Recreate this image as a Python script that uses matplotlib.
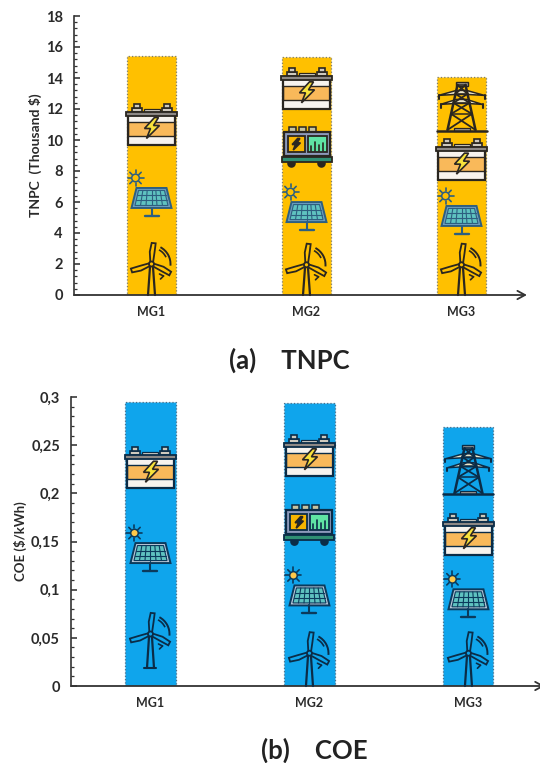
import numpy as np
import matplotlib
matplotlib.use("Agg")
import matplotlib.pyplot as plt
from matplotlib.patches import Polygon, Rectangle, Circle, Arc

plt.rcParams['font.family'] = ['Lato', 'DejaVu Sans']

categories = ['MG1', 'MG2', 'MG3']
tnpc_total = [15.4, 15.35, 14.05]
coe_total = [0.295, 0.294, 0.269]

tnpc_ticks = [0, 2, 4, 6, 8, 10, 12, 14, 16, 18]
coe_ticks = [0, 0.05, 0.1, 0.15, 0.2, 0.25, 0.3]
coe_tick_labels = ['0', '0,05', '0,1', '0,15', '0,2', '0,25', '0,3']

# where each icon sits in its bar
tnpc_icons = [
    [('turbine', 2.0), ('panel', 6.26), ('battery', 11.0)],
    [('turbine', 1.95), ('panel', 5.35), ('inverter', 9.55), ('battery', 13.3)],
    [('turbine', 1.95), ('panel', 5.1), ('battery', 8.7), ('tower', 12.2)],
]
coe_icons = [
    [('turbine', 0.054), ('panel', 0.138), ('battery', 0.226)],
    [('turbine', 0.034), ('panel', 0.094), ('inverter', 0.167), ('battery', 0.239)],
    [('turbine', 0.034), ('panel', 0.09), ('battery', 0.157), ('tower', 0.225)],
]

W, H = 540, 763
DARK = '#2b2622'
ORANGE_BAR = '#ffc000'
BLUE_BAR = '#0fa5ec'


def poly(ov, cx, cy, pts, fc='none', ec=DARK, lw=1.0, z=5):
    pts = [(cx + p[0], cy + p[1]) for p in pts]
    ov.add_patch(Polygon(pts, closed=True, fc=fc, ec=ec, lw=lw, zorder=z))


def rect(ov, cx, cy, x0, y0, x1, y1, fc='none', ec=DARK, lw=1.0, z=5):
    poly(ov, cx, cy, [(x0, y0), (x1, y0), (x1, y1), (x0, y1)], fc, ec, lw, z)


def line(ov, cx, cy, x0, y0, x1, y1, c=DARK, lw=1.0, z=6):
    ov.plot([cx + x0, cx + x1], [cy + y0, cy + y1], color=c, lw=lw, zorder=z,
            solid_capstyle='round')


def bolt(ov, cx, cy, s=1.0, fc='#f8e23b'):
    pts = [(3, 10), (-7, -1), (-1, -1), (-5, -11), (8, 2), (2, 2), (7, 10)]
    poly(ov, cx, cy, [(p[0] * s, p[1] * s) for p in pts], fc=fc, lw=1.2, z=7)


def battery(ov, cx, cy, dark):
    for tx in (-15, 15):
        rect(ov, cx, cy, tx - 5, 13, tx + 5, 17, fc='#cfc9bd', ec=dark, lw=1.2)
        rect(ov, cx, cy, tx - 3, 17, tx + 3, 21, fc='#cfc9bd', ec=dark, lw=1.2)
    rect(ov, cx, cy, -8, 13, 8, 16, fc='#d9d4ca', ec=dark, lw=0.9)
    rect(ov, cx, cy, -23.5, -20, 23.5, 10, fc='#f7f3ee', ec='none')
    rect(ov, cx, cy, -23.5, -11, 23.5, 3, fc='#f9b95a', ec=dark, lw=1.0)
    rect(ov, cx, cy, -23.5, -20, 23.5, 10, ec=dark, lw=1.6)
    rect(ov, cx, cy, -25.5, 9, 25.5, 13, fc='#8d8885', ec=dark, lw=1.3)
    bolt(ov, cx, cy - 3)


def inverter(ov, cx, cy, dark):
    for kx in (-14, -4, 6):
        rect(ov, cx, cy, kx - 3.5, 14, kx + 3.5, 20, fc='#c6c2a0', ec=dark, lw=1.1)
    rect(ov, cx, cy, -23, -9, 23, 15, fc='#8d9abb', ec=dark, lw=1.6)
    rect(ov, cx, cy, -19, -5, -2, 11, fc='#f7b500', ec=dark, lw=1.3)
    bolt(ov, cx - 10.5, cy + 3, s=0.55, fc=dark)
    rect(ov, cx, cy, 1, -5, 20, 11, fc='#5fe4a4', ec=dark, lw=1.3)
    for bx, bh in zip((4, 8, 12, 16), (5, 9, 6, 8)):
        line(ov, cx, cy, bx, -4, bx, -4 + bh, c=dark, lw=1.2)
    rect(ov, cx, cy, -25, -15, 25, -10, fc='#2f8f73', ec=dark, lw=1.3)
    for fx in (-15, 15):
        ov.add_patch(Circle((cx + fx, cy - 16.5), 4.3, fc=dark, ec='none', zorder=4))


def panel(ov, cx, cy, dark, sun_fill, frame):
    line(ov, cx, cy, 0, -10, 0, -18, c=dark, lw=1.5)
    line(ov, cx, cy, -7, -18, 7, -18, c=dark, lw=1.7)
    poly(ov, cx, cy, [(-20, -10), (20, -10), (15, 10), (-15, 10)], fc=frame, ec=dark, lw=1.4)
    poly(ov, cx, cy, [(-16.5, -7.5), (16.5, -7.5), (13, 7.5), (-13, 7.5)], fc='#5fc2c0', ec=dark, lw=0.8, z=6)
    for v in (-2.5, 2.5):
        half = 16.5 - (v + 7.5) * 3.5 / 15
        line(ov, cx, cy, -half, v, half, v, c=dark, lw=0.8, z=7)
    for t in np.linspace(-1, 1, 7)[1:-1]:
        line(ov, cx, cy, t * 16.5, -7.5, t * 13, 7.5, c=dark, lw=0.8, z=7)
    sx, sy = cx - 16, cy + 20
    ov.add_patch(Circle((sx, sy), 3.8, fc=sun_fill, ec=dark, lw=1.1, zorder=6))
    for a in np.arange(0, 360, 45):
        ca, sa = np.cos(np.radians(a)), np.sin(np.radians(a))
        line(ov, sx, sy, 4.8 * ca, 4.8 * sa, 8 * ca, 8 * sa, c=dark, lw=1.2)


def turbine(ov, cx, cy, dark, base_y, fill, foot):
    line(ov, cx, cy, -1.5, -3, -3.5, base_y - cy, c=dark, lw=1.6)
    line(ov, cx, cy, 1.5, -3, 3.5, base_y - cy, c=dark, lw=1.6)
    if foot:
        line(ov, cx, cy, -6, base_y - cy, 6, base_y - cy, c=dark, lw=1.5)
    for ang in (84, 198, 333):
        ca, sa = np.cos(np.radians(ang)), np.sin(np.radians(ang))
        nx, ny = -sa, ca
        pts = [(2 * ca - 1.4 * nx, 2 * sa - 1.4 * ny), (2 * ca + 1.4 * nx, 2 * sa + 1.4 * ny),
               (12 * ca + 3 * nx, 12 * sa + 3 * ny), (21 * ca + 2 * nx, 21 * sa + 2 * ny),
               (21 * ca - 2 * nx, 21 * sa - 2 * ny), (12 * ca - 1.8 * nx, 12 * sa - 1.8 * ny)]
        poly(ov, cx, cy, pts, fc=fill, ec=dark, lw=1.3, z=6)
    ov.add_patch(Circle((cx, cy), 2.5, fc=fill, ec=dark, lw=1.3, zorder=7))
    ov.add_patch(Arc((cx, cy), 38, 38, theta1=-5, theta2=62, ec=dark, lw=1.4, zorder=5))
    ov.add_patch(Arc((cx, cy), 32, 32, theta1=25, theta2=62, ec=dark, lw=1.2, zorder=5))
    line(ov, cx, cy, 8, -10, 12, -12, c=dark, lw=1.2)
    line(ov, cx, cy, 12, -12, 9, -15, c=dark, lw=1.2)


def tower(ov, cx, cy, dark):
    line(ov, cx, cy, -25, -25, 25, -25, c=dark, lw=1.8)
    rect(ov, cx, cy, -8, -25, 8, -22, fc='#9f9a94', ec=dark, lw=0.9)
    line(ov, cx, cy, -14, -24, -4, 21, c=dark, lw=1.8)
    line(ov, cx, cy, 14, -24, 4, 21, c=dark, lw=1.8)
    # cross bracing between the legs
    levels = [-24, -8, 3, 12, 21]
    half = [14, 10.4, 8, 6, 4]
    for k in range(4):
        line(ov, cx, cy, -half[k], levels[k], half[k + 1], levels[k + 1], c=dark, lw=1.3)
        line(ov, cx, cy, half[k], levels[k], -half[k + 1], levels[k + 1], c=dark, lw=1.3)
        line(ov, cx, cy, -half[k + 1], levels[k + 1], half[k + 1], levels[k + 1], c=dark, lw=1.1)
    rect(ov, cx, cy, -6, 20, 6, 24, fc='#9f9a94', ec=dark, lw=1.0)
    for ay, tip in ((13, 23), (4, 21)):
        poly(ov, cx, cy, [(-tip, ay - 2.5), (-5, ay + 2.5), (5, ay + 2.5), (tip, ay - 2.5), (5, ay - 1.5), (-5, ay - 1.5)],
             fc='#ede6c8', ec=dark, lw=1.1)
        for sx in (-tip, tip):
            line(ov, cx, cy, sx, ay - 2.5, sx, ay - 6, c=dark, lw=1.5)


def draw_icons(ov, ax, xc, stacks, dark, panel_dark, frame, sun_fill, bar_color, foot_bars):
    base_y = ax.transData.transform((0, 0))[1]
    for i, stack in enumerate(stacks):
        for name, val in stack:
            cx, cy = ax.transData.transform((xc[i], val))
            if name == 'battery':
                battery(ov, cx, cy, dark)
            elif name == 'inverter':
                inverter(ov, cx, cy, dark)
            elif name == 'panel':
                panel(ov, cx, cy, panel_dark, sun_fill, frame)
            elif name == 'tower':
                tower(ov, cx, cy, dark)
            else:
                foot = i in foot_bars
                turbine(ov, cx, cy, dark, base_y + (18 if foot else 0), bar_color, foot)


def style_axis(ax, tip):
    for s in ('top', 'right', 'bottom'):
        ax.spines[s].set_visible(False)
    ax.spines['left'].set_linewidth(1.2)
    ax.spines['left'].set_color('#333333')
    ax.tick_params(axis='y', which='major', direction='in', length=4, width=1.1,
                   labelsize=10.5, pad=8, colors='#2a2a2a')
    ax.tick_params(axis='y', which='minor', direction='in', length=2.5, width=0.9, colors='#333333')
    ax.tick_params(axis='x', length=0, labelsize=9, pad=8, colors='#2a2a2a')
    ax.annotate('', xy=(tip, 0), xytext=(0, 0), xycoords='axes fraction', textcoords='axes fraction',
                annotation_clip=False,
                arrowprops=dict(arrowstyle='->,head_length=0.55,head_width=0.3', color='#333333',
                                lw=1.3, shrinkA=0, shrinkB=0))


fig = plt.figure(figsize=(W / 100, H / 100), dpi=100)

ax1 = fig.add_axes([74 / W, 1 - 295 / H, 465 / W, 279 / H])
x1 = np.arange(len(categories))
ax1.bar(x1, tnpc_total, width=0.32, color=ORANGE_BAR, edgecolor='#7d7d6a', linestyle=':', linewidth=0.9)
ax1.set_xlim(-0.5, 2.5)
ax1.set_ylim(0, 18)
ax1.set_xticks(x1, categories, fontweight='bold')
ax1.set_yticks(tnpc_ticks, [str(t) for t in tnpc_ticks], fontweight='bold')
ax1.set_yticks(np.arange(0, 18.01, 0.4), minor=True)
ax1.set_ylabel('TNPC  (Thousand $)', fontsize=10, fontweight='bold', color='#2a2a2a', labelpad=3)
style_axis(ax1, 0.974)

ax2 = fig.add_axes([71 / W, 1 - 686 / H, 469 / W, 289 / H])
x2 = np.arange(len(categories))
ax2.bar(x2, coe_total, width=0.315, color=BLUE_BAR, edgecolor='#4a6f8a', linestyle=':', linewidth=0.9)
ax2.set_xlim(-0.5, 2.45)
ax2.set_ylim(0, 0.3)
ax2.set_xticks(x2, categories, fontweight='bold')
ax2.set_yticks(coe_ticks, coe_tick_labels, fontweight='bold')
ax2.set_yticks(np.arange(0, 0.3001, 0.01), minor=True)
ax2.set_ylabel('COE ($/kWh)', fontsize=9.5, fontweight='bold', color='#2a2a2a', labelpad=3)
style_axis(ax2, 1.01)

fig.text(289 / W, 1 - 360 / H, '(a)    TNPC', fontsize=18.5, fontweight='bold', color='#222222',
         ha='center', va='center')
fig.text(314 / W, 1 - 750 / H, '(b)    COE', fontsize=18.5, fontweight='bold', color='#222222',
         ha='center', va='center')

# the icons go on a see-through overlay measured in pixels
ov = fig.add_axes([0, 0, 1, 1])
ov.set_xlim(0, W)
ov.set_ylim(0, H)
ov.axis('off')
draw_icons(ov, ax1, x1, tnpc_icons, '#2a2620', '#2d5f80', '#6f9fbf', '#ffc000', ORANGE_BAR, [])
draw_icons(ov, ax2, x2, coe_icons, '#0b2c47', '#0b3a5c', '#b9c7d8', '#ffc94a', BLUE_BAR, [0])

fig.savefig('out.png', dpi=100)
